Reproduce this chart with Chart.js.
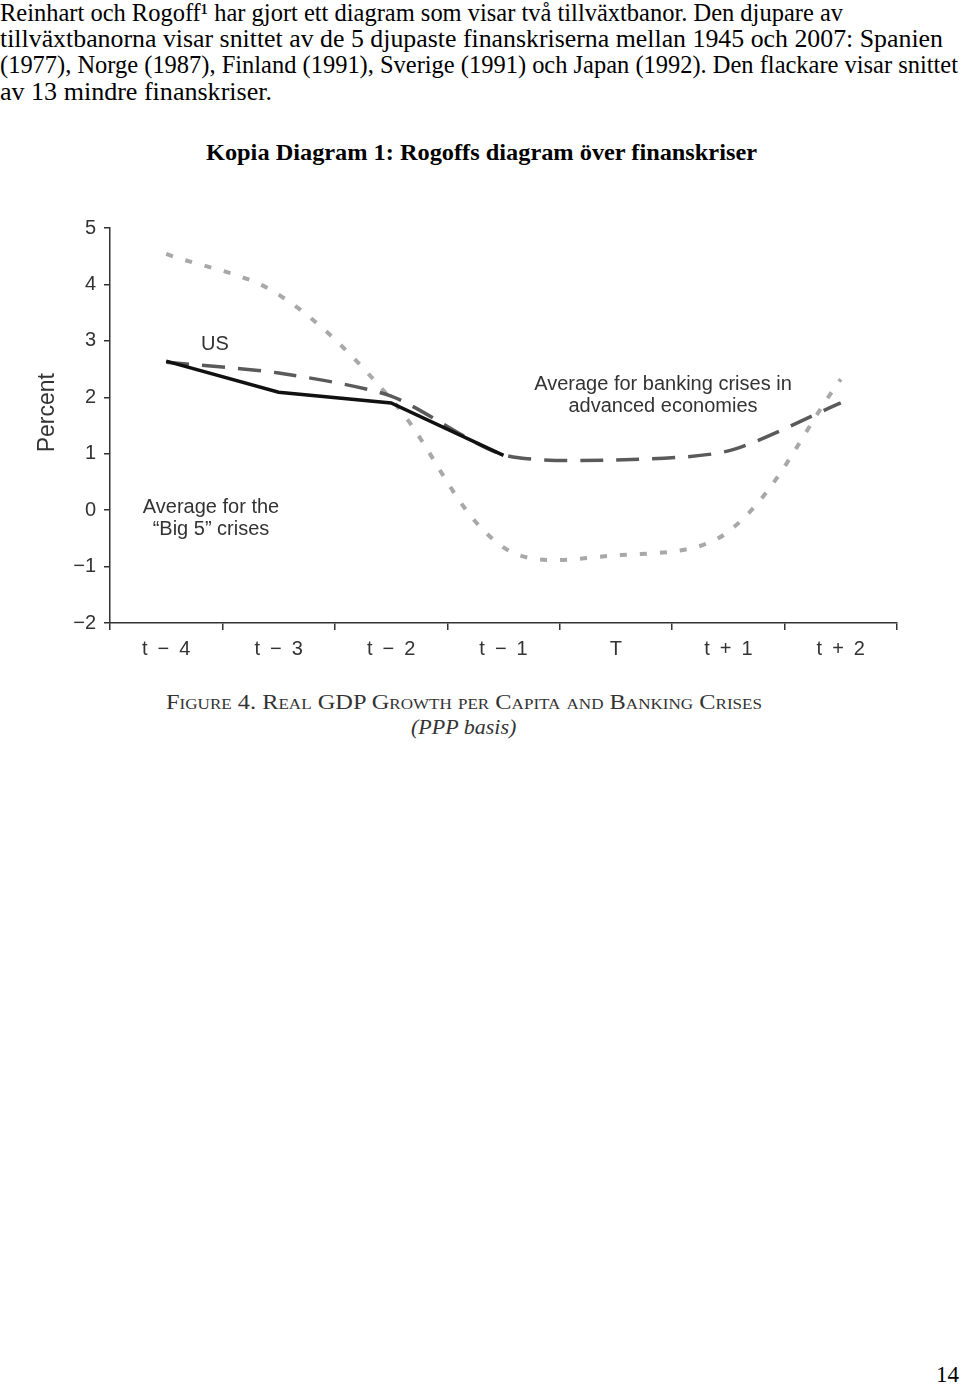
<!DOCTYPE html>
<html>
<head>
<meta charset="utf-8">
<script src="https://cdn.jsdelivr.net/npm/chart.js@4.4.1/dist/chart.umd.min.js"></script>
<style>
  body { margin: 0; background: #fff; }
  #page { position: relative; width: 960px; height: 1385px; overflow: hidden; background: #fff; }
  .txt { position: absolute; left: 0; white-space: nowrap; font-family: "Liberation Serif", "Times New Roman", serif;
         font-size: 25px; line-height: 26px; color: #000; transform-origin: 0 0; }
  .title { position: absolute; white-space: nowrap; font-family: "Liberation Serif", serif; font-weight: bold;
           font-size: 24px; line-height: 26px; color: #000; transform-origin: 0 0; }
  .ann { position: absolute; white-space: nowrap; font-family: "Liberation Sans", Arial, sans-serif;
         font-size: 20px; line-height: 22px; color: #333; text-align: center; transform: translateX(-50%); }
  .cap { position: absolute; white-space: nowrap; font-family: "Liberation Serif", serif; color: #333; transform-origin: 0 0; }
  #c { position: absolute; left: 0; top: 200px; }
</style>
</head>
<body>
<div id="page">
  <div class="txt fit" data-w="843" style="top:0px">Reinhart och Rogoff¹ har gjort ett diagram som visar två tillväxtbanor. Den djupare av</div>
  <div class="txt fit" data-w="943" style="top:26px">tillväxtbanorna visar snittet av de 5 djupaste finanskriserna mellan 1945 och 2007: Spanien</div>
  <div class="txt fit" data-w="958" style="top:52px">(1977), Norge (1987), Finland (1991), Sverige (1991) och Japan (1992). Den flackare visar snittet</div>
  <div class="txt fit" data-w="272" style="top:79px">av 13 mindre finanskriser.</div>

  <div class="title fit" data-w="551" style="left:206px; top:139px">Kopia Diagram 1: Rogoffs diagram över finanskriser</div>

  <canvas id="c" width="960" height="480"></canvas>

  <div class="ann" style="left:215px; top:332px">US</div>
  <div class="ann" style="left:663px; top:372px">Average for banking crises in<br>advanced economies</div>
  <div class="ann" style="left:211px; top:495px">Average for the<br>“Big 5” crises</div>

  <div class="cap fit" data-w="596" style="left:166px; top:690px; font-size:20px; font-variant:small-caps; line-height:24px">Figure 4. Real GDP Growth per Capita and Banking Crises</div>
  <div class="cap" style="left:411px; top:714px; font-size:22px; font-style:italic; line-height:26px">(PPP basis)</div>

  <div class="txt" style="left:936px; top:1362px; font-size:23px">14</div>
</div>

<script>
// Tidpunkter kring krisåret T
const periods = ['t\u2002−\u20024', 't\u2002−\u20023', 't\u2002−\u20022', 't\u2002−\u20021', 'T', 't\u2002+\u20021', 't\u2002+\u20022'];

// Real BNP-tillväxt per capita (procent)
const usGrowth       = [2.64, 2.09, 1.90, 0.97, null, null, null];
const advancedGrowth = [2.62, 2.43, 2.02, 0.98, 0.89, 1.05, 1.90];
const big5Growth     = [4.54, 3.82, 1.97, -0.66, -0.80, -0.38, 2.32];

// Y-axelns gränser
const yMin = -2;
const yMax = 5;

// Sträck ut textraderna så att de får samma bredd som i originalet
document.querySelectorAll('.fit').forEach(el => {
    const w = el.getBoundingClientRect().width;
    el.style.transform = 'scaleX(' + (parseFloat(el.dataset.w) / w) + ')';
});

const axisColor = '#333';
const tickFont = { family: '"Liberation Sans", Arial, sans-serif', size: 20 };

const config = {
    type: 'line',
    data: {
        labels: periods,
        datasets: [
            {
                label: 'US',
                data: usGrowth,
                borderColor: '#111',
                borderWidth: 3.5,
                tension: 0,
                pointRadius: 0
            },
            {
                label: 'Average for banking crises in advanced economies',
                data: advancedGrowth,
                borderColor: '#5a5a5a',
                borderWidth: 3.5,
                borderDash: [23, 13],
                tension: 0.25,
                pointRadius: 0
            },
            {
                label: 'Average for the "Big 5" crises',
                data: big5Growth,
                borderColor: '#a8a8a8',
                borderWidth: 4,
                borderDash: [7, 13],
                tension: 0.35,
                pointRadius: 0
            }
        ]
    },
    options: {
        responsive: false,
        devicePixelRatio: 1,
        animation: false,
        layout: { padding: { top: 28, right: 63, left: 0, bottom: 0 } },
        plugins: {
            legend: { display: false },
            tooltip: { enabled: false }
        },
        scales: {
            x: {
                offset: true,
                grid: { offset: true, drawOnChartArea: false, color: axisColor, lineWidth: 1.5, tickLength: 7 },
                border: { color: axisColor, width: 1.5 },
                ticks: { color: axisColor, font: tickFont, padding: 7, maxRotation: 0 },
                afterFit: s => { s.height = 57; }
            },
            y: {
                min: yMin,
                max: yMax,
                grid: { drawOnChartArea: false, color: axisColor, lineWidth: 1.5, tickLength: 6 },
                border: { color: axisColor, width: 1.5 },
                ticks: {
                    stepSize: 1,
                    color: axisColor,
                    font: tickFont,
                    padding: 8,
                    callback: v => v < 0 ? '\u2212' + Math.abs(v) : String(v)
                },
                title: {
                    display: true,
                    text: '    Percent',
                    color: axisColor,
                    font: { family: '"Liberation Sans", Arial, sans-serif', size: 23 },
                    padding: { top: 34, bottom: 0 }
                },
                afterFit: s => { s.width = 110; }
            }
        }
    }
};

new Chart(document.getElementById('c').getContext('2d'), config);
</script>
</body>
</html>
